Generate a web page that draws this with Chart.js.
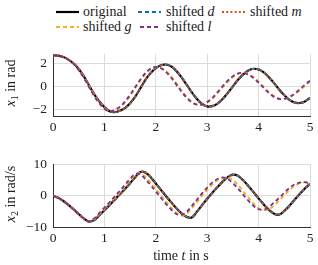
<!DOCTYPE html>
<html>
<head>
<meta charset="utf-8">
<script src="https://cdn.jsdelivr.net/npm/chart.js@4.4.1/dist/chart.umd.min.js"></script>
<style>
  body { margin: 0; background: #fff; }
  #wrap { position: relative; width: 318px; height: 265px; overflow: hidden; font-family: "Liberation Serif", serif; color: #222; }
  canvas { position: absolute; left: 0; }
  #top { top: 40px; }
  #bottom { top: 150px; }
  .leg { position: absolute; font-size: 14px; line-height: 14px; white-space: nowrap; }
  .leg svg { position: absolute; }
  .ylab { position: absolute; font-size: 14px; white-space: nowrap; transform: translate(-50%, -50%) rotate(-90deg); }
  .xlab { position: absolute; font-size: 14px; white-space: nowrap; transform: translate(-50%, -50%); }
  sub { font-size: 10px; vertical-align: -3px; line-height: 0; }
</style>
</head>
<body>
<div id="wrap">
  <canvas id="top" width="318" height="95"></canvas>
  <canvas id="bottom" width="318" height="100"></canvas>
  <div id="legend"></div>
  <div class="ylab" style="left:11px; top:83px;"><i>x</i><sub>1</sub> in rad</div>
  <div class="ylab" style="left:11px; top:194px;"><i>x</i><sub>2</sub> in rad/s</div>
  <div class="xlab" style="left:181px; top:256px;">time <i>t</i> in s</div>
</div>
<script>
// time in s
const t = [0, 0.1, 0.2, 0.3, 0.4, 0.5, 0.6, 0.7, 0.8, 0.9,
  1.0, 1.1, 1.2, 1.3, 1.4, 1.5, 1.6, 1.7, 1.8, 1.9,
  2.0, 2.1, 2.2, 2.3, 2.4, 2.5, 2.6, 2.7, 2.8, 2.9,
  3.0, 3.1, 3.2, 3.3, 3.4, 3.5, 3.6, 3.7, 3.8, 3.9,
  4.0, 4.1, 4.2, 4.3, 4.4, 4.5, 4.6, 4.7, 4.8, 4.9, 5.0];

// x1 in rad
const x1Original = [2.75, 2.72, 2.60, 2.38, 2.04, 1.55, 0.90, 0.12, -0.66, -1.30,
  -1.80, -2.17, -2.24, -2.12, -1.88, -1.46, -0.88, -0.14, 0.62, 1.20,
  1.62, 1.88, 1.94, 1.78, 1.38, 0.82, 0.17, -0.50, -1.08, -1.51,
  -1.73, -1.71, -1.49, -1.09, -0.56, 0.03, 0.60, 1.08, 1.42, 1.57,
  1.50, 1.25, 0.83, 0.31, -0.25, -0.76, -1.16, -1.40, -1.44, -1.30, -0.99];
const x1ShiftD = [2.75, 2.72, 2.60, 2.38, 2.04, 1.56, 0.91, 0.14, -0.64, -1.29,
  -1.79, -2.16, -2.24, -2.13, -1.89, -1.47, -0.90, -0.16, 0.60, 1.19,
  1.61, 1.87, 1.94, 1.79, 1.40, 0.84, 0.19, -0.48, -1.06, -1.50,
  -1.73, -1.72, -1.50, -1.11, -0.58, 0.01, 0.58, 1.06, 1.41, 1.57,
  1.51, 1.27, 0.85, 0.33, -0.23, -0.74, -1.15, -1.40, -1.45, -1.31, -1.01];
const x1ShiftM = [2.75, 2.72, 2.60, 2.38, 2.04, 1.55, 0.90, 0.13, -0.65, -1.30,
  -1.80, -2.17, -2.24, -2.12, -1.88, -1.46, -0.89, -0.15, 0.61, 1.20,
  1.62, 1.88, 1.94, 1.78, 1.39, 0.83, 0.18, -0.49, -1.07, -1.51,
  -1.73, -1.71, -1.49, -1.10, -0.57, 0.02, 0.59, 1.07, 1.42, 1.57,
  1.50, 1.26, 0.84, 0.32, -0.24, -0.75, -1.16, -1.40, -1.44, -1.30, -1.00];
const x1ShiftG = [2.75, 2.72, 2.60, 2.38, 2.03, 1.50, 0.82, 0.04, -0.75, -1.40,
  -1.90, -2.17, -2.10, -1.83, -1.40, -0.84, -0.15, 0.53, 1.12, 1.54,
  1.72, 1.66, 1.37, 0.90, 0.31, -0.31, -0.87, -1.31, -1.56, -1.59,
  -1.41, -1.07, -0.60, -0.08, 0.42, 0.84, 1.12, 1.22, 1.12, 0.85,
  0.45, -0.01, -0.46, -0.83, -1.05, -1.09, -0.97, -0.70, -0.34, 0.06, 0.43];
const x1ShiftL = [2.75, 2.72, 2.59, 2.36, 2.00, 1.45, 0.75, -0.04, -0.82, -1.45,
  -1.94, -2.18, -2.06, -1.76, -1.30, -0.72, -0.03, 0.63, 1.20, 1.59,
  1.73, 1.62, 1.28, 0.78, 0.18, -0.44, -0.98, -1.38, -1.59, -1.58,
  -1.35, -0.98, -0.49, 0.04, 0.53, 0.92, 1.17, 1.21, 1.06, 0.76,
  0.34, -0.12, -0.56, -0.90, -1.08, -1.07, -0.90, -0.60, -0.23, 0.17, 0.52];

// x2 in rad/s
const x2Original = [0, -0.6, -1.6, -2.8, -4.2, -5.7, -7.1, -8.1, -7.6, -6.1,
  -4.5, -2.9, -1.2, 0.5, 2.2, 4.0, 5.9, 7.5, 7.3, 5.9,
  3.9, 1.9, -0.1, -2.0, -3.9, -5.5, -6.6, -6.8, -5.0, -2.9,
  -0.9, 1.0, 2.8, 4.5, 5.9, 6.7, 6.3, 4.9, 3.1, 1.2,
  -0.8, -2.7, -4.4, -5.6, -5.9, -4.7, -3.1, -1.2, 0.6, 2.3, 3.8];
const x2ShiftD = [0, -0.6, -1.6, -2.8, -4.2, -5.7, -7.1, -8.1, -7.7, -6.2,
  -4.6, -3.0, -1.3, 0.4, 2.1, 3.9, 5.8, 7.4, 7.4, 6.0,
  4.0, 2.0, 0.0, -1.9, -3.8, -5.4, -6.5, -6.9, -5.1, -3.0,
  -1.0, 0.9, 2.7, 4.4, 5.8, 6.7, 6.4, 5.0, 3.2, 1.3,
  -0.7, -2.6, -4.3, -5.5, -5.9, -4.8, -3.2, -1.3, 0.5, 2.2, 3.7];
const x2ShiftM = [0, -0.6, -1.6, -2.8, -4.2, -5.7, -7.1, -8.1, -7.6, -6.1,
  -4.5, -2.9, -1.2, 0.5, 2.2, 4.0, 5.9, 7.5, 7.3, 5.9,
  3.9, 1.9, -0.1, -2.0, -3.9, -5.5, -6.6, -6.8, -5.0, -2.9,
  -0.9, 1.0, 2.8, 4.5, 5.9, 6.7, 6.3, 4.9, 3.1, 1.2,
  -0.8, -2.7, -4.4, -5.6, -5.9, -4.7, -3.1, -1.2, 0.6, 2.3, 3.8];
const x2ShiftG = [0, -0.6, -1.6, -2.8, -4.2, -5.7, -7.1, -8.0, -7.3, -5.7,
  -4.0, -2.3, -0.6, 1.2, 3.0, 4.9, 6.6, 7.1, 6.0, 4.2,
  2.2, 0.2, -1.8, -3.7, -5.3, -6.2, -5.6, -3.9, -2.0, 0.0,
  1.9, 3.6, 4.9, 5.5, 5.8, 5.0, 3.5, 1.5, -0.5, -2.4,
  -3.9, -4.5, -4.2, -3.0, -1.5, 0.2, 1.8, 3.1, 4.0, 4.3, 4.0];
const x2ShiftL = [0, -0.6, -1.6, -2.9, -4.3, -5.8, -7.2, -8.0, -7.1, -5.4,
  -3.7, -2.0, -0.2, 1.6, 3.5, 5.4, 6.9, 6.8, 5.2, 3.4,
  1.4, -0.6, -2.6, -4.3, -5.7, -6.0, -5.0, -3.2, -1.2, 0.8,
  2.6, 4.2, 5.3, 5.8, 5.3, 4.0, 2.3, 0.4, -1.5, -3.1,
  -4.2, -4.3, -3.5, -2.1, -0.6, 1.0, 2.5, 3.6, 4.2, 4.3, 3.8];

const xTicks = [0, 1, 2, 3, 4, 5];
const x1Ticks = [-2, 0, 2];
const x2Ticks = [-10, -5, 0, 5, 10];

const seriesStyle = [
  { label: 'original',  color: '#000000', width: 2.2, dash: [] },
  { label: 'shifted d', color: '#0072BD', width: 1.8, dash: [4, 3] },
  { label: 'shifted m', color: '#D95319', width: 1.8, dash: [2, 2.2] },
  { label: 'shifted g', color: '#EDB120', width: 1.8, dash: [4, 3] },
  { label: 'shifted l', color: '#7E2F8E', width: 1.8, dash: [4, 3] }
];

const tickFont = { family: 'Liberation Serif', size: 13.5 };

function toPoints(ys) {
  return ys.map((y, i) => ({ x: t[i], y: y }));
}

function fmt(v) {
  return String(v).replace('-', '\u2212');
}

function makeChart(id, series, yMin, yMax, yTicks, padTop, xAxisHeight) {
  const datasets = series.map((ys, i) => ({
    label: seriesStyle[i].label,
    data: toPoints(ys),
    borderColor: seriesStyle[i].color,
    borderWidth: seriesStyle[i].width,
    borderDash: seriesStyle[i].dash,
    pointRadius: 0,
    tension: 0.35,
    fill: false,
    order: series.length - i
  }));
  return new Chart(document.getElementById(id), {
    type: 'line',
    data: { datasets: datasets },
    options: {
      responsive: false,
      animation: false,
      layout: { padding: { top: padTop, right: 8, left: 0, bottom: 0 } },
      plugins: { legend: { display: false }, tooltip: { enabled: false } },
      scales: {
        x: {
          type: 'linear',
          min: 0, max: 5,
          afterBuildTicks: s => { s.ticks = xTicks.map(v => ({ value: v })); },
          afterFit: s => { s.height = xAxisHeight; },
          ticks: { padding: 3, font: tickFont, color: '#222', callback: v => fmt(v), maxRotation: 0 },
          grid: { color: '#dcdcdc', lineWidth: 1, drawTicks: false },
          border: { color: '#333', width: 1 }
        },
        y: {
          min: yMin, max: yMax,
          afterBuildTicks: s => { s.ticks = yTicks.map(v => ({ value: v })); },
          afterFit: s => { s.width = 53; },
          ticks: { padding: 6, font: tickFont, color: '#222', callback: v => fmt(v) },
          grid: { color: '#dcdcdc', lineWidth: 1, drawTicks: false },
          border: { color: '#333', width: 1 }
        }
      }
    }
  });
}

makeChart('top', [x1Original, x1ShiftD, x1ShiftM, x1ShiftG, x1ShiftL], -2.58, 2.86, x1Ticks, 10, 19);
makeChart('bottom', [x2Original, x2ShiftD, x2ShiftM, x2ShiftG, x2ShiftL], -10, 10, x2Ticks, 10.7, 22.3);

// legend, three columns like the original
const legendPos = [
  { x: 56, y: 12 }, { x: 138, y: 12 }, { x: 222, y: 12 },
  { x: 56, y: 27 }, { x: 140, y: 27 }
];
const legend = document.getElementById('legend');
seriesStyle.forEach((s, i) => {
  const p = legendPos[i];
  const item = document.createElement('div');
  item.className = 'leg';
  item.style.left = p.x + 'px';
  item.style.top = (p.y - 7) + 'px';
  const name = s.label.replace(/ ([a-z])$/, ' <i>$1</i>');
  const textLeft = i === 4 ? 26 : (i % 3 === 0 ? 27 : 28);
  item.innerHTML =
    '<svg width="24" height="6" style="left:0; top:4px">' +
    '<line x1="0" y1="3" x2="' + (i === 4 ? 21 : 23) + '" y2="3" stroke="' + s.color + '" stroke-width="' + s.width +
    '" stroke-dasharray="' + (s.dash.length ? s.dash.join(',') : 'none') + '"/></svg>' +
    '<span style="position:absolute; left:' + textLeft + 'px; top:0">' + name + '</span>';
  legend.appendChild(item);
});
</script>
</body>
</html>
